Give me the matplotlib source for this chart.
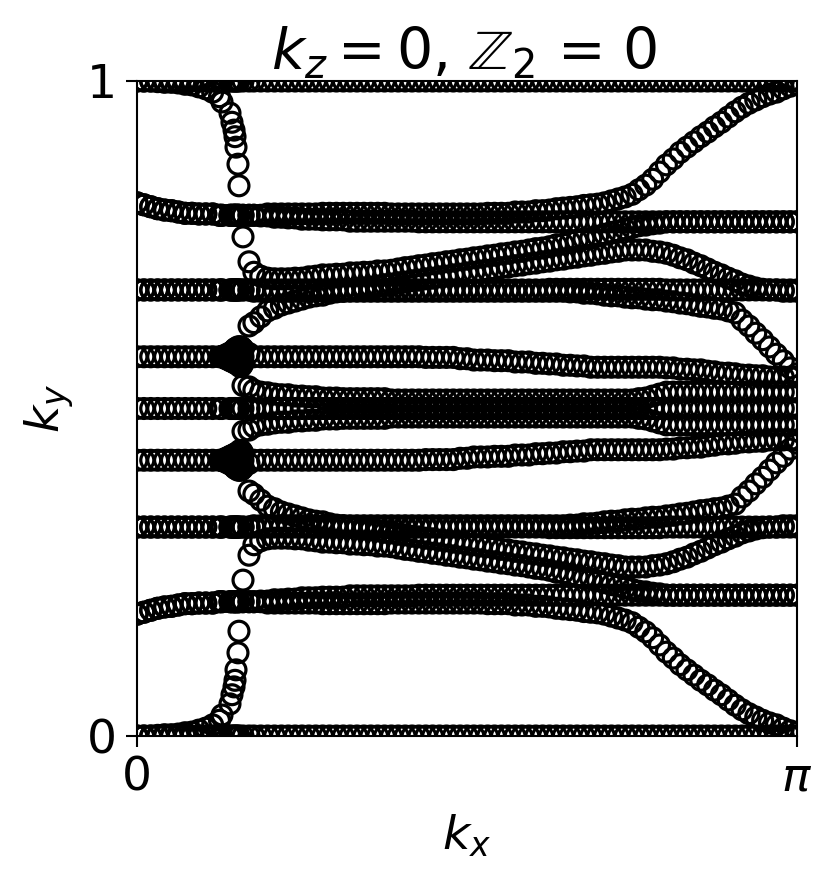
import matplotlib
matplotlib.use("Agg")
import matplotlib.pyplot as plt
import numpy as np

# kx in units of pi, extra points around the crossing near 0.15
kx_over_pi = [0, .0104, .0208, .0313, .0417, .0521, .0625, .0729, .0833, .0938, .1042, .1146, .125,
    .1288, .1409, .1439, .1470, .1485, .1500, .1530, .1545, .1606, .1697,
    .1771, .1875, .1979, .2083, .2188, .2292, .2396, .25, .2604, .2708,
    .2813, .2917, .3021, .3125, .3229, .3333, .3438, .3542, .3646, .375,
    .3854, .3958, .4063, .4167, .4271, .4375, .4479, .4583, .4688, .4792,
    .4896, .5, .5104, .5208, .5313, .5417, .5521, .5625, .5729, .5833,
    .5938, .6042, .6146, .625, .6354, .6458, .6563, .6667, .6771, .6875,
    .6979, .7083, .7188, .7292, .7396, .75, .7604, .7708, .7813, .7917,
    .8021, .8125, .8229, .8333, .8438, .8542, .8646, .875, .8854, .8958,
    .9063, .9167, .9271, .9375, .9479, .9583, .9688, .9792, .9896, 1.0]

# upper half branches
flow_up = [1.0, 1.0, 1.0, .999, .998, .998, .997, .995, .994, .991, .988, .983, .976,
    .968, .951, .937, .925, .915, .899, .873, .840, .762, .724,
    .708, .702, .699, .698, .698, .698, .699, .699, .701, .702,
    .704, .704, .705, .705, .707, .707, .708, .708, .710, .710,
    .711, .713, .715, .716, .718, .719, .721, .722, .724, .725,
    .727, .728, .730, .731, .733, .734, .736, .737, .739, .740,
    .742, .744, .745, .747, .750, .751, .754, .756, .759, .760,
    .763, .766, .769, .771, .774, .776, .779, .780, .782, .783,
    .785, .785, .785, .785, .785, .785, .785, .785, .785, .785,
    .785, .785, .785, .785, .785, .785, .785, .785, .785, .785]
rise_up = [.814, .811, .808, .805, .803, .802, .800, .798, .798, .797, .797, .797, .795,
    .795, .795, .795, .795, .795, .795, .795, .795, .795, .795,
    .795, .795, .797, .797, .797, .797, .797, .797, .797, .797,
    .798, .798, .798, .798, .798, .798, .798, .798, .798, .798,
    .797, .797, .797, .797, .797, .797, .797, .797, .797, .797,
    .797, .797, .797, .797, .798, .798, .798, .798, .800, .800,
    .800, .802, .802, .803, .805, .806, .807, .808, .810, .811,
    .812, .814, .817, .820, .823, .827, .834, .841, .850, .861,
    .872, .881, .891, .899, .907, .915, .922, .930, .937, .945,
    .953, .960, .966, .971, .976, .980, .983, .988, .992, .995]
plateau_up = [.814, .811, .808, .805, .803, .802, .800, .798, .798, .797, .797, .797, .795,
    .795, .795, .795, .795, .795, .795, .795, .795, .795, .795,
    .795, .794, .794, .792, .792, .791, .791, .789, .789, .789,
    .788, .788, .788, .788, .786, .786, .786, .786, .786, .786,
    .786, .786, .786, .786, .785, .785, .785, .785, .785, .785,
    .785, .785, .785, .785, .785, .785, .785, .785, .785, .785,
    .785, .785, .785, .785, .785, .785, .785, .785, .785, .785,
    .785, .785, .785, .785, .785, .785, .785, .785, .785, .785,
    .785, .785, .785, .785, .785, .785, .785, .785, .785, .785,
    .785, .785, .785, .785, .785, .785, .785, .785, .785, .785]
flat_up = [.681, .681, .681, .681, .681, .681, .681, .681, .681, .681, .681, .681, .681,
    .681, .681, .681, .681, .681, .681, .681, .681, .681, .681,
    .681, .681, .681, .681, .681, .681, .681, .681, .681, .681,
    .681, .681, .681, .681, .681, .681, .681, .681, .681, .681,
    .681, .681, .681, .681, .681, .681, .681, .681, .681, .681,
    .681, .681, .681, .681, .681, .681, .681, .681, .681, .681,
    .681, .681, .681, .682, .682, .682, .682, .682, .682, .682,
    .682, .682, .682, .682, .682, .682, .682, .682, .682, .682,
    .681, .681, .681, .681, .681, .681, .681, .681, .681, .681,
    .681, .681, .681, .681, .681, .681, .681, .681, .681, .681]
drop_up = [.681, .681, .681, .681, .681, .681, .681, .681, .681, .681, .681, .681, .681,
    .681, .681, .681, .681, .681, .681, .681, .681, .681, .681,
    .679, .679, .679, .679, .679, .679, .679, .679, .679, .679,
    .679, .679, .679, .679, .679, .679, .679, .679, .679, .679,
    .679, .679, .679, .679, .679, .679, .679, .679, .679, .679,
    .679, .679, .679, .679, .679, .679, .679, .679, .679, .679,
    .679, .679, .679, .679, .679, .679, .678, .678, .676, .676,
    .675, .673, .672, .672, .670, .669, .669, .667, .666, .666,
    .664, .663, .661, .660, .658, .656, .655, .653, .652, .649,
    .646, .635, .626, .615, .605, .594, .583, .573, .562, .553]
# starts at the crossing (index 22)
arc_up = [.626,
    .631, .640, .649, .653, .658, .661, .664, .667, .670, .672,
    .673, .676, .678, .679, .681, .682, .684, .685, .687, .689,
    .690, .692, .693, .695, .696, .698, .699, .701, .702, .704,
    .705, .707, .708, .710, .711, .713, .715, .716, .718, .719,
    .721, .722, .724, .725, .727, .728, .730, .731, .733, .734,
    .736, .737, .739, .740, .742, .742, .742, .742, .740, .739,
    .737, .734, .730, .727, .722, .718, .713, .708, .704, .699,
    .695, .690, .687, .684, .682, .681, .681, .679, .679, .679]
mid_up = [.579, .579, .579, .579, .579, .579, .579, .579, .579, .579, .579, .579, .579,
    .579, .582, .586, .589, .591, .592, .594, .594, .591, .584,
    .579, .579, .579, .579, .579, .579, .579, .579, .579, .579,
    .579, .579, .579, .579, .579, .579, .579, .579, .579, .579,
    .579, .579, .579, .579, .579, .578, .578, .578, .578, .578,
    .576, .576, .574, .574, .574, .573, .573, .573, .571, .571,
    .571, .569, .569, .568, .568, .566, .566, .565, .565, .563,
    .563, .563, .563, .563, .563, .563, .563, .563, .563, .563,
    .562, .562, .560, .560, .559, .559, .557, .556, .554, .554,
    .553, .551, .551, .550, .550, .548, .548, .548, .548, .548]
# the two solid blobs have their own dense kx points
blob_kx_over_pi = [.1288, .1318, .1348, .1379, .1409, .1439, .1470, .1500, .1530, .1545, .1561, .1576, .1591, .1606]
blob_up_top = [.579, .580, .582, .583, .585, .586, .588, .589, .591, .592, .594, .594, .592, .589]
blob_up_mid = [.579, .579, .579, .579, .579, .579, .579, .579, .579, .579, .579, .579, .579, .579]
blob_up_bot = [.579, .578, .576, .575, .573, .572, .570, .569, .567, .566, .564, .564, .566, .569]
# starts at index 21
inner_up = [.535, .533,
    .528, .525, .524, .522, .521, .521, .519, .519, .518, .518,
    .516, .516, .516, .515, .515, .515, .515, .515, .515, .515,
    .513, .513, .513, .513, .513, .513, .513, .513, .513, .513,
    .513, .513, .513, .513, .513, .513, .513, .513, .513, .513,
    .513, .513, .513, .513, .513, .513, .513, .513, .513, .513,
    .513, .513, .513, .513, .513, .513, .515, .516, .519, .522,
    .525, .525, .525, .525, .525, .525, .525, .525, .525, .525,
    .525, .525, .525, .525, .525, .525, .525, .525, .525, .525]

# lower half branches
flow_lo = [0, 0, 0, .001, .002, .002, .003, .005, .006, .009, .012, .017, .024,
    .032, .049, .063, .075, .085, .101, .127, .160, .238, .276,
    .292, .298, .301, .302, .302, .302, .301, .301, .299, .298,
    .296, .296, .295, .295, .293, .293, .292, .292, .290, .290,
    .289, .287, .285, .284, .282, .281, .279, .278, .276, .275,
    .273, .272, .270, .269, .267, .266, .264, .263, .261, .260,
    .258, .256, .255, .253, .250, .249, .246, .244, .241, .240,
    .237, .234, .231, .229, .226, .224, .221, .220, .218, .217,
    .215, .215, .215, .215, .215, .215, .215, .215, .215, .215,
    .215, .215, .215, .215, .215, .215, .215, .215, .215, .215]
rise_lo = [.186, .189, .192, .195, .197, .198, .200, .202, .202, .203, .203, .203, .205,
    .205, .205, .205, .205, .205, .205, .205, .205, .205, .205,
    .205, .205, .203, .203, .203, .203, .203, .203, .203, .203,
    .202, .202, .202, .202, .202, .202, .202, .202, .202, .202,
    .203, .203, .203, .203, .203, .203, .203, .203, .203, .203,
    .203, .203, .203, .203, .202, .202, .202, .202, .200, .200,
    .200, .198, .198, .197, .195, .194, .193, .192, .190, .189,
    .188, .186, .183, .180, .177, .173, .166, .159, .150, .139,
    .128, .119, .109, .101, .093, .085, .078, .070, .063, .055,
    .047, .040, .034, .029, .024, .020, .017, .012, .008, .005]
plateau_lo = [.186, .189, .192, .195, .197, .198, .200, .202, .202, .203, .203, .203, .205,
    .205, .205, .205, .205, .205, .205, .205, .205, .205, .205,
    .205, .206, .206, .208, .208, .209, .209, .211, .211, .211,
    .212, .212, .212, .212, .214, .214, .214, .214, .214, .214,
    .214, .214, .214, .214, .215, .215, .215, .215, .215, .215,
    .215, .215, .215, .215, .215, .215, .215, .215, .215, .215,
    .215, .215, .215, .215, .215, .215, .215, .215, .215, .215,
    .215, .215, .215, .215, .215, .215, .215, .215, .215, .215,
    .215, .215, .215, .215, .215, .215, .215, .215, .215, .215,
    .215, .215, .215, .215, .215, .215, .215, .215, .215, .215]
flat_lo = [.319, .319, .319, .319, .319, .319, .319, .319, .319, .319, .319, .319, .319,
    .319, .319, .319, .319, .319, .319, .319, .319, .319, .319,
    .319, .319, .319, .319, .319, .319, .319, .319, .319, .319,
    .319, .319, .319, .319, .319, .319, .319, .319, .319, .319,
    .319, .319, .319, .319, .319, .319, .319, .319, .319, .319,
    .319, .319, .319, .319, .319, .319, .319, .319, .319, .319,
    .319, .319, .319, .318, .318, .318, .318, .318, .318, .318,
    .318, .318, .318, .318, .318, .318, .318, .318, .318, .318,
    .319, .319, .319, .319, .319, .319, .319, .319, .319, .319,
    .319, .319, .319, .319, .319, .319, .319, .319, .319, .319]
drop_lo = [.319, .319, .319, .319, .319, .319, .319, .319, .319, .319, .319, .319, .319,
    .319, .319, .319, .319, .319, .319, .319, .319, .319, .319,
    .321, .321, .321, .321, .321, .321, .321, .321, .321, .321,
    .321, .321, .321, .321, .321, .321, .321, .321, .321, .321,
    .321, .321, .321, .321, .321, .321, .321, .321, .321, .321,
    .321, .321, .321, .321, .321, .321, .321, .321, .321, .321,
    .321, .321, .321, .321, .321, .321, .322, .322, .324, .324,
    .325, .327, .328, .328, .330, .331, .331, .333, .334, .334,
    .336, .337, .339, .340, .342, .344, .345, .347, .348, .351,
    .354, .365, .374, .385, .395, .406, .417, .427, .438, .447]
arc_lo = [.374,
    .369, .360, .351, .347, .342, .339, .336, .333, .330, .328,
    .327, .324, .322, .321, .319, .318, .316, .315, .313, .311,
    .310, .308, .307, .305, .304, .302, .301, .299, .298, .296,
    .295, .293, .292, .290, .289, .287, .285, .284, .282, .281,
    .279, .278, .276, .275, .273, .272, .270, .269, .267, .266,
    .264, .263, .261, .260, .258, .258, .258, .258, .260, .261,
    .263, .266, .270, .273, .278, .282, .287, .292, .296, .301,
    .305, .310, .313, .316, .318, .319, .319, .321, .321, .321]
mid_lo = [.421, .421, .421, .421, .421, .421, .421, .421, .421, .421, .421, .421, .421,
    .421, .418, .414, .411, .409, .408, .406, .406, .409, .416,
    .421, .421, .421, .421, .421, .421, .421, .421, .421, .421,
    .421, .421, .421, .421, .421, .421, .421, .421, .421, .421,
    .421, .421, .421, .421, .421, .422, .422, .422, .422, .422,
    .424, .424, .426, .426, .426, .427, .427, .427, .429, .429,
    .429, .431, .431, .432, .432, .434, .434, .435, .435, .437,
    .437, .437, .437, .437, .437, .437, .437, .437, .437, .437,
    .438, .438, .440, .440, .441, .441, .443, .444, .446, .446,
    .447, .449, .449, .450, .450, .452, .452, .452, .452, .452]
blob_lo_top = [.421, .420, .418, .417, .415, .414, .412, .411, .409, .408, .406, .406, .408, .411]
blob_lo_mid = [.421, .421, .421, .421, .421, .421, .421, .421, .421, .421, .421, .421, .421, .421]
blob_lo_bot = [.421, .422, .424, .425, .427, .428, .430, .431, .433, .434, .436, .436, .434, .431]
inner_lo = [.465, .467,
    .472, .475, .476, .478, .479, .479, .481, .481, .482, .482,
    .484, .484, .484, .485, .485, .485, .485, .485, .485, .485,
    .487, .487, .487, .487, .487, .487, .487, .487, .487, .487,
    .487, .487, .487, .487, .487, .487, .487, .487, .487, .487,
    .487, .487, .487, .487, .487, .487, .487, .487, .487, .487,
    .487, .487, .487, .487, .487, .487, .485, .484, .481, .478,
    .475, .475, .475, .475, .475, .475, .475, .475, .475, .475,
    .475, .475, .475, .475, .475, .475, .475, .475, .475, .475]

kx = np.array(kx_over_pi) * np.pi
blob_kx = np.array(blob_kx_over_pi) * np.pi

fig = plt.figure(figsize=(8.3, 8.84), dpi=100)
ax = fig.add_axes([137 / 830, 148 / 884, 660 / 830, 655 / 884])

series = [
    (kx, [1.0] * len(kx)), (kx, [0.0] * len(kx)), (kx, [0.5] * len(kx)),
    (kx, flow_up), (kx, rise_up), (kx, plateau_up), (kx, flat_up), (kx, drop_up), (kx, mid_up),
    (kx, flow_lo), (kx, rise_lo), (kx, plateau_lo), (kx, flat_lo), (kx, drop_lo), (kx, mid_lo),
    (kx[22:], arc_up), (kx[22:], arc_lo),
    (blob_kx, blob_up_top), (blob_kx, blob_up_mid), (blob_kx, blob_up_bot),
    (blob_kx, blob_lo_top), (blob_kx, blob_lo_mid), (blob_kx, blob_lo_bot),
    (kx[21:], inner_up), (kx[21:], inner_lo),
]
for xs, ys in series:
    ax.scatter(xs, ys, s=205, facecolors="none", edgecolors="k", linewidths=2.3)

ax.set_xlim(0, np.pi)
ax.set_ylim(0, 1)
ax.set_xticks([0, np.pi])
ax.set_xticklabels(["0", r"$\pi$"])
ax.set_yticks([0, 1])
ax.set_yticklabels(["0", "1"])
ax.tick_params(labelsize=34, length=7.7, width=1.5, pad=6.5)
for s in ax.spines.values():
    s.set_linewidth(1.5)
ax.set_xlabel(r"$k_x$", fontsize=34, labelpad=9)
ax.set_ylabel(r"$k_y$", fontsize=34, labelpad=8)
ax.set_title(r"$k_z = 0$, $\mathbb{Z}_2$ = 0", fontsize=41, pad=8, x=0.495)

plt.savefig("out.png", dpi=100)
